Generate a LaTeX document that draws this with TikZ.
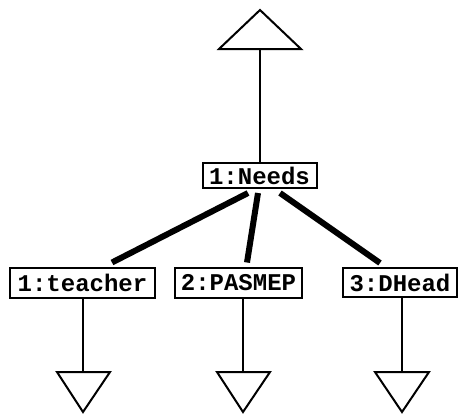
\documentclass[tikz,border=0pt]{standalone}
\usepackage{fontspec}
\setmonofont{Liberation Mono}
\usetikzlibrary{calc,backgrounds}
\begin{document}
\begin{tikzpicture}[x=1pt,y=-1pt,
  lbl/.style={draw=black,line width=2pt,fill=white,inner sep=0pt,
    font=\ttfamily\bfseries\fontsize{24}{24}\selectfont,anchor=center},
  thin link/.style={line width=2pt},
  thick link/.style={line width=6pt},
  tri/.style={line width=2pt,line join=miter}]
\begin{scope}[on background layer]
\path[use as bounding box,fill=white] (0,0) rectangle (458,413);
\end{scope}
% nodes
\node[lbl,minimum width=114pt,minimum height=25pt] (needs) at (259.5,175.5) {1:Needs};
\node[lbl,minimum width=145pt,minimum height=30pt] (teacher) at (82.5,282.5) {1:teacher};
\node[lbl,minimum width=127pt,minimum height=30pt] (pasmep) at (238.5,282.5) {2:PASMEP};
\node[lbl,minimum width=114pt,minimum height=29pt] (dhead) at (400,282.5) {3:DHead};
% triangles
\coordinate (topbase) at (260,49);
\draw[tri] (219,49) -- (260,10) -- (301,49) -- cycle;
\coordinate (b1) at (83,372);
\draw[tri] (57,372) -- (110,372) -- (83,412) -- cycle;
\coordinate (b2) at (243,372);
\draw[tri] (217,372) -- (270,372) -- (243,412) -- cycle;
\coordinate (b3) at (402,372);
\draw[tri] (375,372) -- (429,372) -- (402,412) -- cycle;
% thin connectors
\draw[thin link] (needs.north -| topbase) -- (topbase);
\draw[thin link] (teacher.south -| b1) -- (b1);
\draw[thin link] (pasmep.south -| b2) -- (b2);
\draw[thin link] (dhead.south -| b3) -- (b3);
% thick connectors (behind the boxes)
\begin{scope}[on background layer]
\draw[thick link] ([xshift=-11.5pt,yshift=-4pt]needs.south) -- ([xshift=29.5pt,yshift=4pt]teacher.north);
\draw[thick link] ([xshift=-1.5pt,yshift=-4pt]needs.south) -- ([xshift=8.5pt,yshift=4pt]pasmep.north);
\draw[thick link] ([xshift=20.5pt,yshift=-4pt]needs.south) -- ([xshift=-20pt,yshift=4pt]dhead.north);
\end{scope}
\end{tikzpicture}
\end{document}
